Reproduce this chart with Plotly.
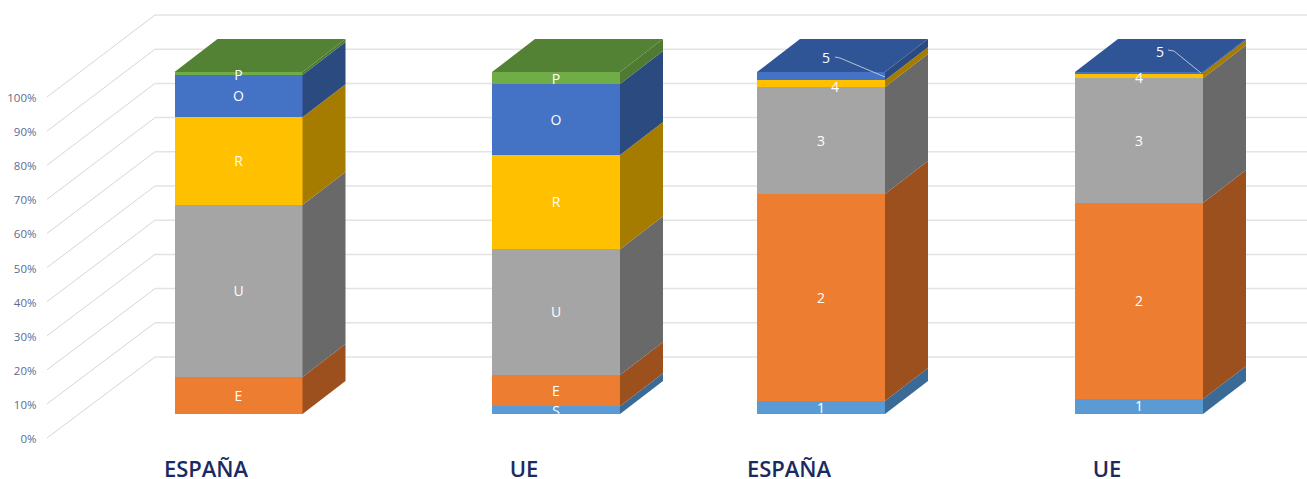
import plotly.graph_objects as go

# ---- data ----
categories = ["ESPAÑA", "UE", "ESPAÑA", "UE"]
level_1 = [0.0, 2.3, 3.8, 4.4]      # S / 1
level_2 = [10.8, 9.1, 60.5, 57.3]   # E / 2
level_3 = [50.3, 36.8, 31.3, 36.5]  # U / 3
level_4 = [25.7, 27.5, 2.0, 1.5]    # R / 4
level_5 = [12.3, 20.8, 2.4, 0.3]    # O / 5
level_6 = [0.9, 3.5, 0.0, 0.0]      # P
labels_left = ["S", "E", "U", "R", "O", "P"]
labels_right = ["1", "2", "3", "4", "5", ""]
y_ticks = list(range(0, 101, 10))
y_ticktext = [f"{v}%" for v in y_ticks]

levels = [level_1, level_2, level_3, level_4, level_5, level_6]

# ---- style / layout ----
W, H = 1307, 479
MB = 25
PLOT_H = H - MB
PX = 3.42                       # pixels per percent on the front plane
Y0 = 414                        # pixel row of the bars' zero
BAR_X = [238.5, 556, 821, 1139]
LABEL_X = [206, 524, 789, 1107]
BAR_W = 128
DX, DY = 43, 33                 # bar depth in pixels
front = ["#5B9BD5", "#ED7D31", "#A5A5A5", "#FFC000", "#4472C4", "#70AD47"]
side = ["#3A6A96", "#9C501E", "#696969", "#A67C00", "#2A4A80", "#4F7A32"]
top = ["#3A6A96", "#9C501E", "#696969", "#A67C00", "#2F5597", "#548235"]
GRID = "#E3E3E3"
DIAG = "#D6D6D6"
TICK = "#5F6A8E"
NAVY = "#1B2A63"
TEXT_DROP = 1.5
label_nudge = {(0, 5): (0, 1), (1, 5): (0, 1), (1, 0): (0, 1),
               (2, 3): (14, 3.5), (3, 3): (0, 2.5),
               (2, 4): (5, -18), (3, 4): (21, -21)}
leaders = {2: ((835, 57), (840, 58), (885, 77)), 3: ((1168, 50), (1174, 51), (1201, 73))}


def py(pixel):
    return (Y0 - pixel) / PX


fig = go.Figure()

# front faces
for i, vals in enumerate(levels):
    fig.add_trace(go.Bar(x=BAR_X, y=vals, width=BAR_W, marker=dict(color=front[i], line_width=0),
                         hoverinfo="skip", showlegend=False))

# side and top faces, text
txt_x, txt_y, txt_s = [], [], []
for b, cx in enumerate(BAR_X):
    xr = cx + BAR_W / 2
    xl = cx - BAR_W / 2
    base = 0.0
    last = 0
    for i, vals in enumerate(levels):
        v = vals[b]
        if v <= 0:
            continue
        t = base + v
        d = DY / PX
        fig.add_trace(go.Scatter(x=[xr, xr, xr + DX, xr + DX, xr], y=[base, t, t + d, base + d, base],
                                 mode="lines", fill="toself", fillcolor=side[i], line=dict(width=0),
                                 hoverinfo="skip", showlegend=False))
        name = (labels_left if b < 2 else labels_right)[i]
        nx, ny = label_nudge.get((b, i), (0, 0))
        txt_x.append(cx + nx)
        txt_y.append((base + t) / 2 - (ny + TEXT_DROP) / PX)
        txt_s.append(name)
        base = t
        last = i
    fig.add_trace(go.Scatter(x=[xl, xr, xr + DX, xl + DX, xl], y=[base, base, base + DY / PX, base + DY / PX, base],
                             mode="lines", fill="toself", fillcolor=top[last], line=dict(width=0),
                             hoverinfo="skip", showlegend=False))

for pts in leaders.values():
    fig.add_trace(go.Scatter(x=[p[0] for p in pts], y=[py(p[1]) for p in pts], mode="lines",
                             line=dict(color="#B9C3D6", width=1), hoverinfo="skip", showlegend=False))

fig.add_trace(go.Scatter(x=txt_x, y=txt_y, text=txt_s, mode="text",
                         textfont=dict(family="Open Sans", size=14, color="white"),
                         hoverinfo="skip", showlegend=False))

# wall and floor gridlines
shapes = []
for v in y_ticks:
    y_front = py(438 - 3.41 * v)
    y_back = py(357 - 3.42 * v)
    shapes.append(dict(type="line", layer="below", xref="x", yref="y", x0=47, x1=155, y0=y_front, y1=y_back,
                       line=dict(color=DIAG, width=1)))
    shapes.append(dict(type="line", layer="below", xref="x", yref="y", x0=155, x1=W, y0=y_back, y1=y_back,
                       line=dict(color=GRID, width=1.5)))

# invisible trace that carries the percent axis
fig.add_trace(go.Scatter(x=[0, 0], y=[0, 100], yaxis="y2", mode="markers", marker=dict(opacity=0),
                         hoverinfo="skip", showlegend=False))

fig.update_layout(
    width=W, height=H, autosize=False,
    margin=dict(l=0, r=0, t=0, b=MB, pad=0, autoexpand=False),
    paper_bgcolor="white", plot_bgcolor="rgba(0,0,0,0)",
    barmode="stack", bargap=0, shapes=shapes, showlegend=False,
    xaxis=dict(range=[0, W], showgrid=False, zeroline=False, showline=False, ticks="", automargin=False,
               tickmode="array", tickvals=LABEL_X, ticktext=categories,
               tickfont=dict(family="Open Sans", size=22, color=NAVY, weight=600)),
    yaxis=dict(range=[py(PLOT_H), py(0)], visible=False, automargin=False),
    yaxis2=dict(range=[(439 - PLOT_H) / 3.41, 439 / 3.41], overlaying="y", anchor="free", position=36.5 / W,
                side="left", showgrid=False, zeroline=False, showline=False, ticks="", automargin=False,
                tickmode="array", tickvals=y_ticks, ticktext=y_ticktext,
                tickfont=dict(family="Open Sans", size=11.5, color=TICK)),
)

fig.write_html("out.html", config=dict(displayModeBar=False),
               post_script="document.body.style.margin='0';document.documentElement.style.overflow='hidden';")
